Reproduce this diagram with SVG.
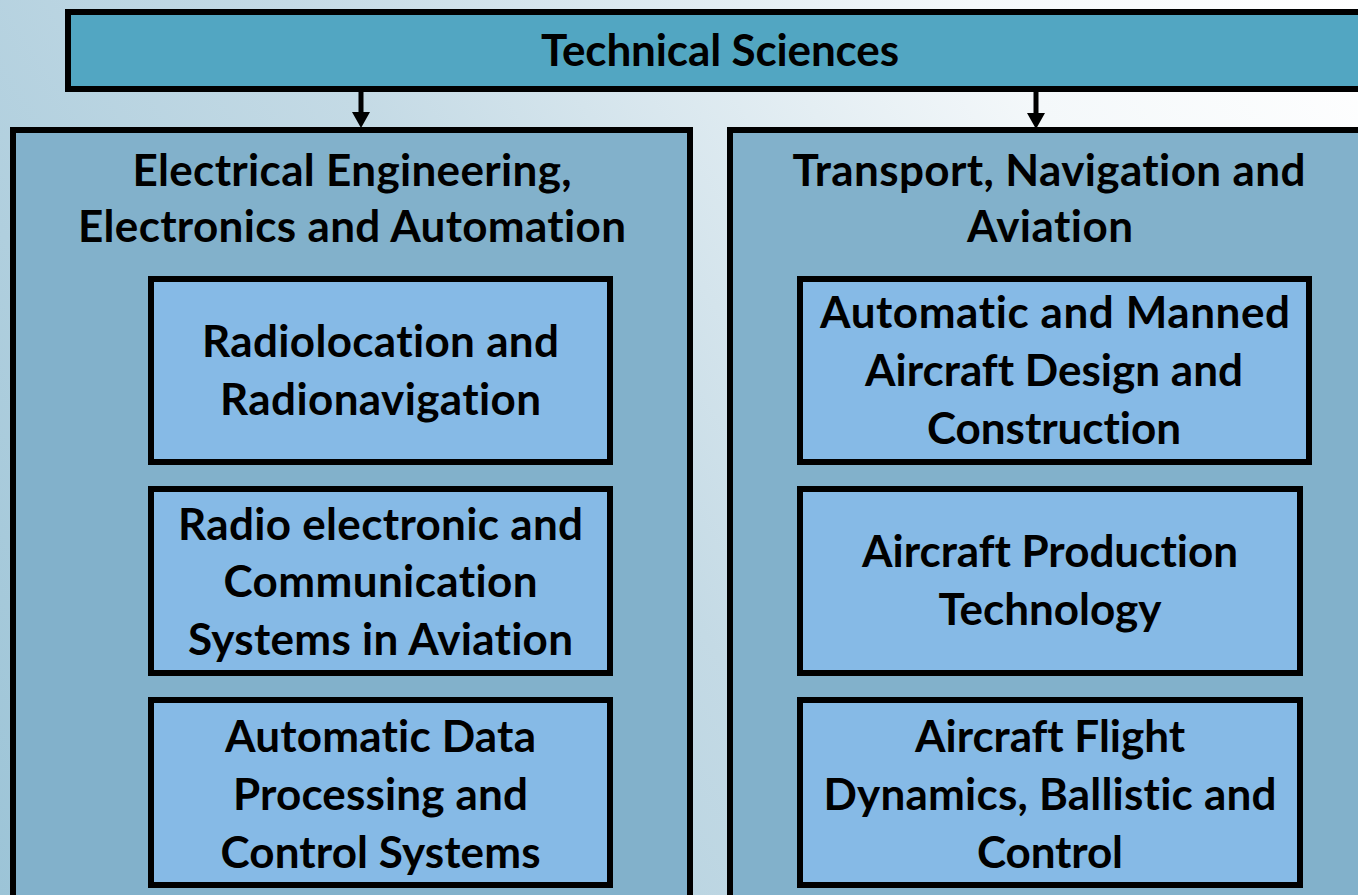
<svg xmlns="http://www.w3.org/2000/svg" width="1358" height="895" viewBox="0 0 1358 895">
  <defs>
    <linearGradient id="bg" x1="0" y1="895" x2="1358" y2="0" gradientUnits="userSpaceOnUse">
      <stop offset="0" stop-color="#9CC4D7"/>
      <stop offset="0.45" stop-color="#C4DAE5"/>
      <stop offset="0.8" stop-color="#F4F8FA"/>
      <stop offset="1" stop-color="#FFFFFF"/>
    </linearGradient>
  </defs>
  <style>
    .box { stroke: #000; stroke-width: 6; }
    .top { fill: #52A6C2; }
    .panel { fill: #82B1CB; }
    .inner { fill: #86BAE6; }
    text { font-family: Lato, "Open Sans", "Liberation Sans", sans-serif; font-weight: 700; font-size: 44px; fill: #000; text-anchor: middle; font-variant-ligatures: none; }
    .conn line { stroke: #000; stroke-width: 5; }
    .conn polygon { fill: #000; }
  </style>
  <rect x="0" y="0" width="1358" height="895" fill="url(#bg)"/>

  <g id="node-technical-sciences">
    <rect class="box top" x="68" y="12" width="1310" height="77"/>
    <text x="720" y="66" textLength="358">Technical Sciences</text>
  </g>

  <g id="node-electrical">
    <rect class="box panel" x="13" y="130" width="677" height="800"/>
    <text x="352" y="186" textLength="439">Electrical Engineering,</text>
    <text x="352" y="242" textLength="548">Electronics and Automation</text>
  </g>

  <g id="node-transport">
    <rect class="box panel" x="730" y="130" width="700" height="800"/>
    <text x="1049" y="186" textLength="513">Transport, Navigation and</text>
    <text x="1050" y="242" textLength="166">Aviation</text>
  </g>

  <g id="node-radiolocation">
    <rect class="box inner" x="151" y="279" width="459" height="183"/>
    <text x="380.5" y="357" textLength="357">Radiolocation and</text>
    <text x="380.5" y="415" textLength="321">Radionavigation</text>
  </g>

  <g id="node-radio-electronic">
    <rect class="box inner" x="151" y="489" width="459" height="184"/>
    <text x="380.5" y="540" textLength="405">Radio electronic and</text>
    <text x="380.5" y="597" textLength="314">Communication</text>
    <text x="380.5" y="655" textLength="385">Systems in Aviation</text>
  </g>

  <g id="node-data-processing">
    <rect class="box inner" x="151" y="700" width="459" height="185"/>
    <text x="380.5" y="752" textLength="311">Automatic Data</text>
    <text x="380.5" y="810" textLength="295">Processing and</text>
    <text x="380.5" y="868" textLength="320">Control Systems</text>
  </g>

  <g id="node-aircraft-design">
    <rect class="box inner" x="800" y="279" width="509" height="183"/>
    <text x="1055" y="328" textLength="470">Automatic and Manned</text>
    <text x="1054" y="386" textLength="378">Aircraft Design and</text>
    <text x="1054" y="444" textLength="254">Construction</text>
  </g>

  <g id="node-aircraft-production">
    <rect class="box inner" x="800" y="489" width="500" height="184"/>
    <text x="1050" y="567" textLength="376">Aircraft Production</text>
    <text x="1050" y="625" textLength="223">Technology</text>
  </g>

  <g id="node-flight-dynamics">
    <rect class="box inner" x="800" y="700" width="500" height="185"/>
    <text x="1050" y="752" textLength="270">Aircraft Flight</text>
    <text x="1050" y="810" textLength="453">Dynamics, Ballistic and</text>
    <text x="1050" y="868" textLength="146">Control</text>
  </g>

  <g id="connectors" class="conn">
    <line x1="361" y1="91" x2="361" y2="114"/>
    <polygon points="352,112 370,112 361,128"/>
    <line x1="1036" y1="91" x2="1036" y2="114"/>
    <polygon points="1027,113 1045,113 1036,129"/>
  </g>
</svg>
